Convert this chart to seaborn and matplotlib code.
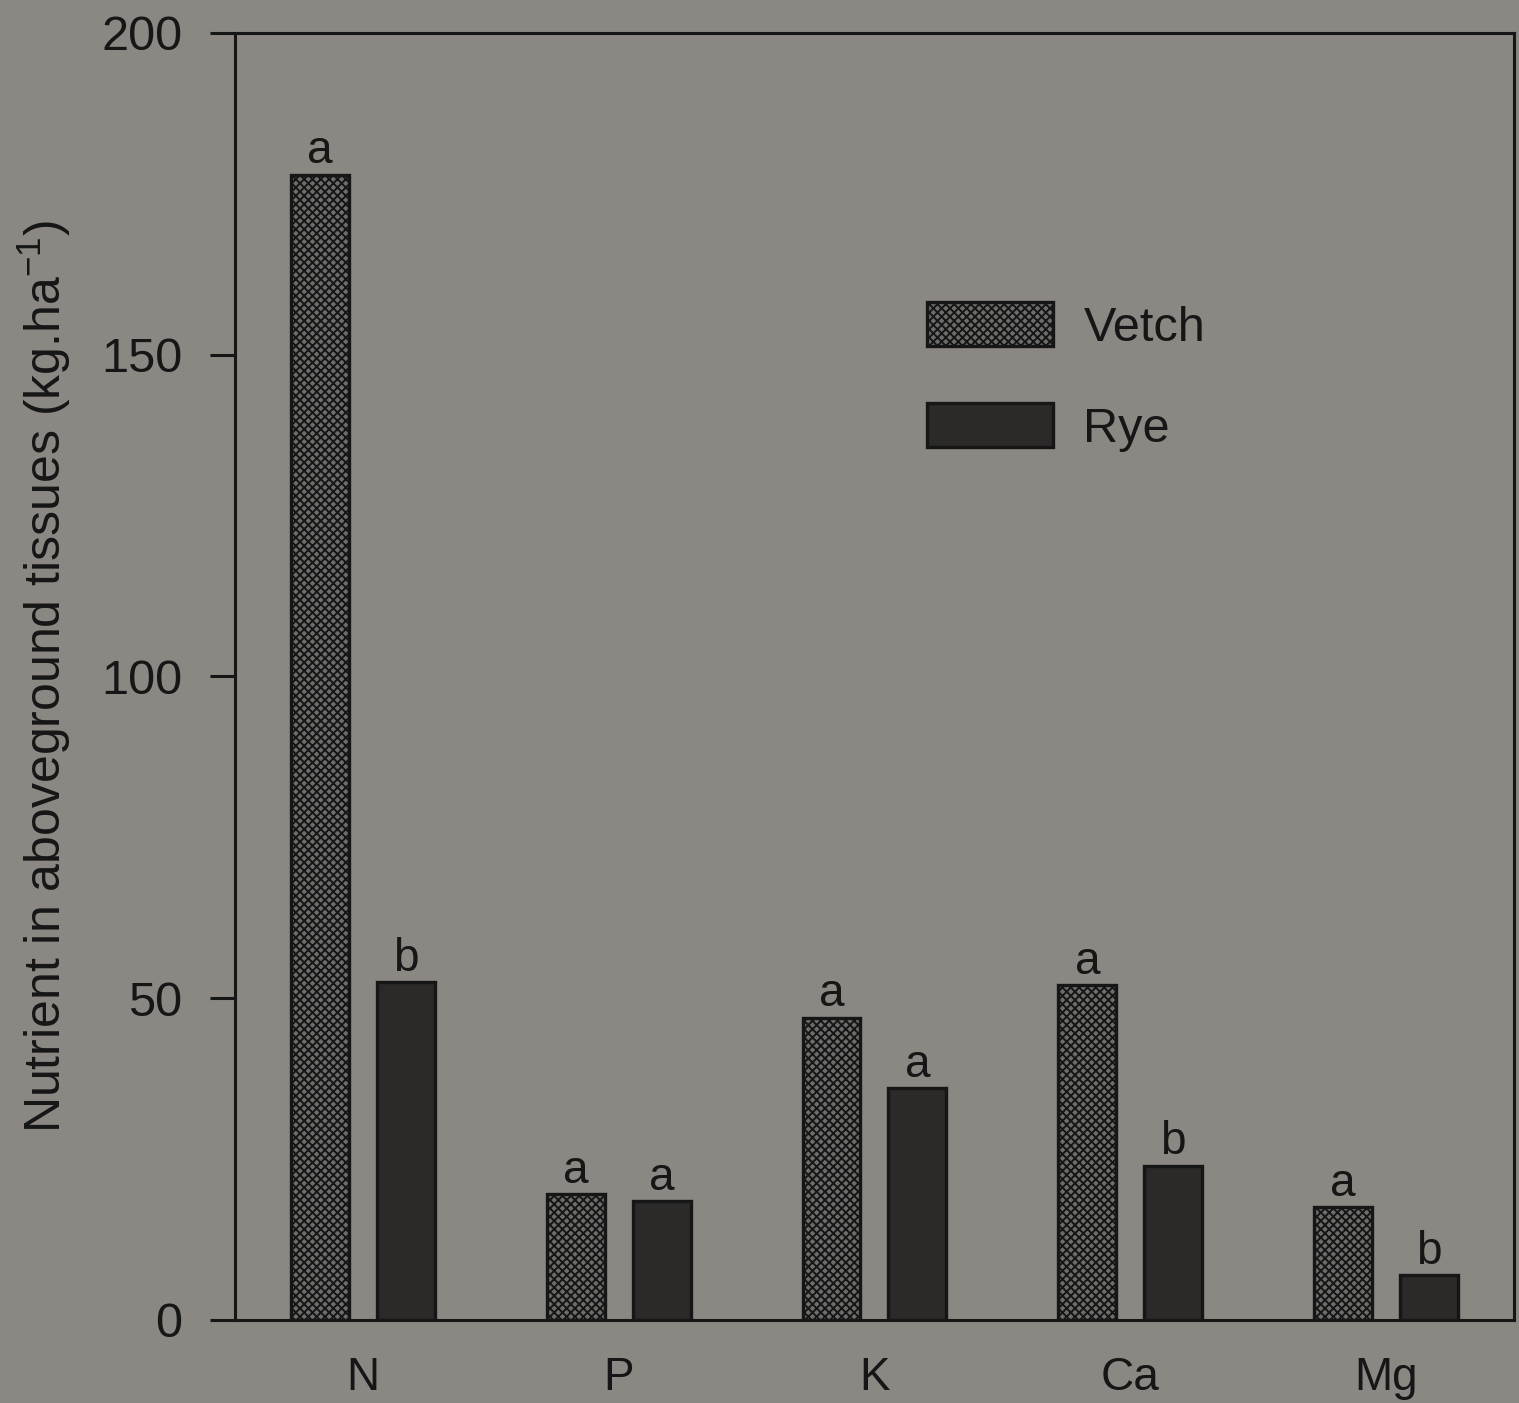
import matplotlib
matplotlib.use("Agg")
import matplotlib.pyplot as plt
from matplotlib.patches import Patch
import seaborn as sns
import pandas as pd

# Nutrient content of aboveground cover-crop tissues (kg/ha)
nutrients = ["N", "P", "K", "Ca", "Mg"]
vetch = [178, 19.5, 47, 52, 17.5]
rye = [52.5, 18.5, 36, 24, 7]
vetch_letters = ["a", "a", "a", "a", "a"]
rye_letters = ["b", "a", "a", "b", "b"]
y_ticks = [0, 50, 100, 150, 200]

df = pd.DataFrame({
    "Nutrient": nutrients * 2,
    "Crop": ["Vetch"] * len(nutrients) + ["Rye"] * len(nutrients),
    "Value": vetch + rye,
})

bg = "#8b8782"
ink = "#161616"
vetch_face = "#6f6d6a"
rye_face = "#2b2a29"

sns.set_theme(style="ticks")
plt.rcParams["font.family"] = ["Liberation Sans", "DejaVu Sans"]
plt.rcParams["mathtext.fontset"] = "custom"
plt.rcParams["mathtext.rm"] = "Liberation Sans"
plt.rcParams["mathtext.it"] = "Liberation Sans"
plt.rcParams["hatch.linewidth"] = 1.4

fig = plt.figure(figsize=(15.19, 14.03), dpi=100, facecolor=bg)
ax = fig.add_axes([0.1547, 0.0592, 0.8420, 0.9173])
ax.set_facecolor(bg)

sns.barplot(data=df, x="Nutrient", y="Value", hue="Crop",
            order=nutrients, hue_order=["Vetch", "Rye"],
            palette={"Vetch": vetch_face, "Rye": rye_face},
            saturation=1, width=0.672, gap=0.326,
            edgecolor=ink, linewidth=2.4, legend=False, ax=ax)

# checkered texture on the vetch bars
for bar in ax.containers[0]:
    bar.set_hatch("xxxx")

for cont, letters in zip(ax.containers, [vetch_letters, rye_letters]):
    ax.bar_label(cont, labels=letters, padding=1, fontsize=33, color=ink)

ax.set_xlim(-0.5, 4.5)
ax.set_ylim(0, 200)
ax.set_yticks(y_ticks)
ax.set_xlabel("")
ax.set_ylabel("Nutrient in aboveground tissues (kg.ha$^{-1}$)",
              fontsize=36, color=ink)
ax.yaxis.set_label_coords(-0.127, 0.5)

for side in ["left", "right", "top", "bottom"]:
    ax.spines[side].set_visible(True)
    ax.spines[side].set_color(ink)
    ax.spines[side].set_linewidth(2.2)

ax.tick_params(axis="y", length=18, width=2.2, color=ink, pad=20,
               labelsize=35, labelcolor=ink, direction="out")
ax.tick_params(axis="x", length=0, pad=26, labelsize=33, labelcolor=ink)

handles = [
    Patch(facecolor=vetch_face, edgecolor=ink, hatch="xxxx", linewidth=2.4, label="Vetch"),
    Patch(facecolor=rye_face, edgecolor=ink, linewidth=2.4, label="Rye"),
]
ax.legend(handles=handles, loc="upper left", bbox_to_anchor=(0.541, 0.791),
          frameon=False, fontsize=35, handlelength=2.6, handleheight=1.02,
          handletextpad=0.62, labelspacing=1.08, borderpad=0, borderaxespad=0,
          labelcolor=ink)

fig.savefig("out.png", dpi=100, facecolor=bg)
